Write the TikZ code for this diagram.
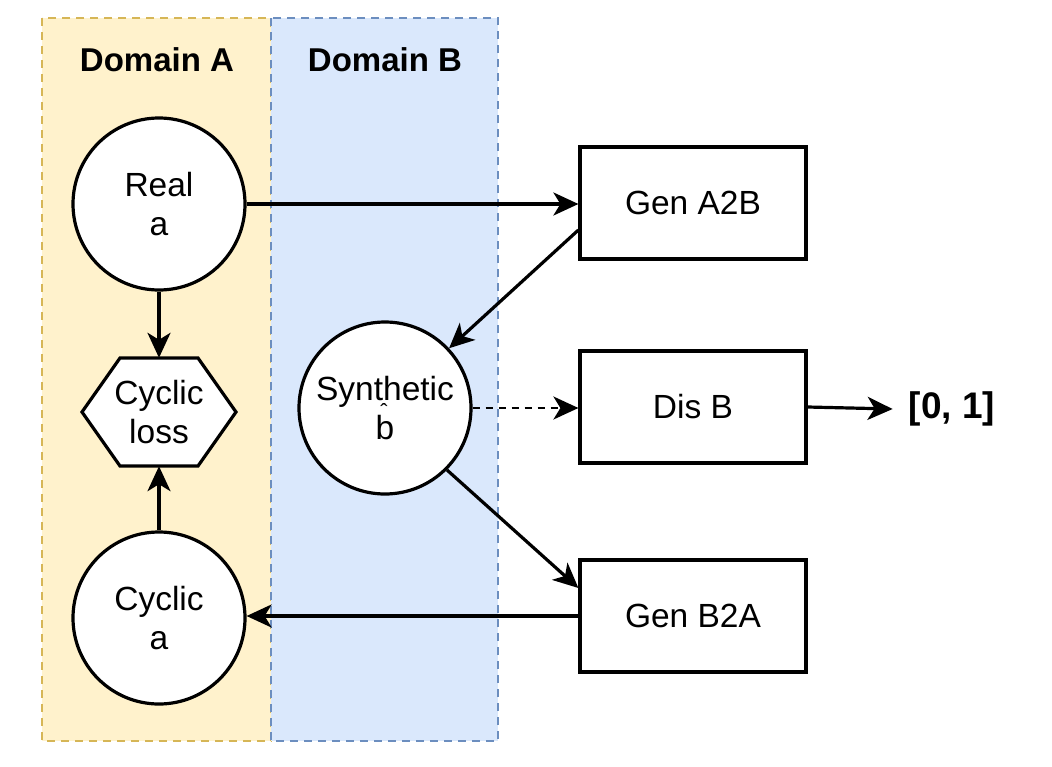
\documentclass[tikz,border=0pt]{standalone}
\usepackage{fontspec}
\setmainfont{Liberation Sans}
\usetikzlibrary{arrows.meta,calc}
\definecolor{yfill}{HTML}{FFF2CC}
\definecolor{ystroke}{HTML}{D6B656}
\definecolor{bfill}{HTML}{DAE8FC}
\definecolor{bstroke}{HTML}{6C8EBF}
\tikzset{
  every node/.style={font=\fontsize{33.5}{39}\selectfont, align=center},
  circ/.style={circle, draw, fill=white, line width=3.2pt, minimum size=172pt, inner sep=0pt},
  boxn/.style={rectangle, draw, fill=white, line width=3.2pt, minimum width=226pt, minimum height=112pt},
  arrowtip/.style={-{Stealth[length=25pt,width=23pt,inset=7pt]}},
  conn/.style={line width=3.2pt, arrowtip},
  dconn/.style={line width=2.4pt, dash pattern=on 7pt off 6pt, arrowtip},
  lbl/.style={font=\fontsize{33}{40}\selectfont\bfseries},
  domainbox/.style={line width=2.4pt, dash pattern=on 8pt off 6pt}
}
\begin{document}
\begin{tikzpicture}[x=1pt,y=-1pt]
\useasboundingbox (0,0) rectangle (1052,766);
% domains
\draw[domainbox, fill=yfill, draw=ystroke] (42,18) rectangle (271,741);
\draw[domainbox, fill=bfill, draw=bstroke] (271,18) rectangle (498,741);
\node[lbl] (da) at (157,60) {Domain A};
\node[lbl] (db) at (385,60) {Domain B};
% nodes
\node[circ] (reala) at (159,204) {Real\\a};
\node[circ] (cyca) at (159,618) {Cyclic\\a};
\node[circ] (synth) at (385,408) {Synthetic\\b};
\node[font=\fontsize{22}{22}\selectfont, anchor=base, inner sep=0pt] (hat) at (384,419) {ˆ};
\path[draw, fill=white, line width=3.2pt] (82,412) -- (120,358) -- (198,358) -- (236,412) -- (198,466) -- (120,466) -- cycle;
\node[minimum width=154pt, minimum height=108pt, inner sep=0pt] (hex) at (159,412) {Cyclic\\loss};
\node[boxn] (ga) at (693,203) {Gen A2B};
\node[boxn] (disb) at (693,407) {Dis B};
\node[boxn] (gb) at (693,616) {Gen B2A};
\node[lbl, font=\fontsize{37}{40}\selectfont\bfseries, inner sep=0pt] (out) at (952,409) {[0, 1]};
% connectors
\draw[conn] (reala.east) -- (reala.east -| ga.west);
\draw[conn] ([yshift=-27pt]ga.west) -- (synth.43);
\draw[dconn] (synth.east) -- (synth.east -| disb.west);
\draw[conn] (synth.-45) -- ([yshift=28pt]gb.west);
\draw[conn] (gb.west) -- (gb.west -| cyca.east);
\draw[conn] (disb.east) -- ([xshift=-16pt]out.west);
\draw[conn] (reala.south) -- (hex.north);
\draw[conn] (cyca.north) -- (hex.south);
\end{tikzpicture}
\end{document}
